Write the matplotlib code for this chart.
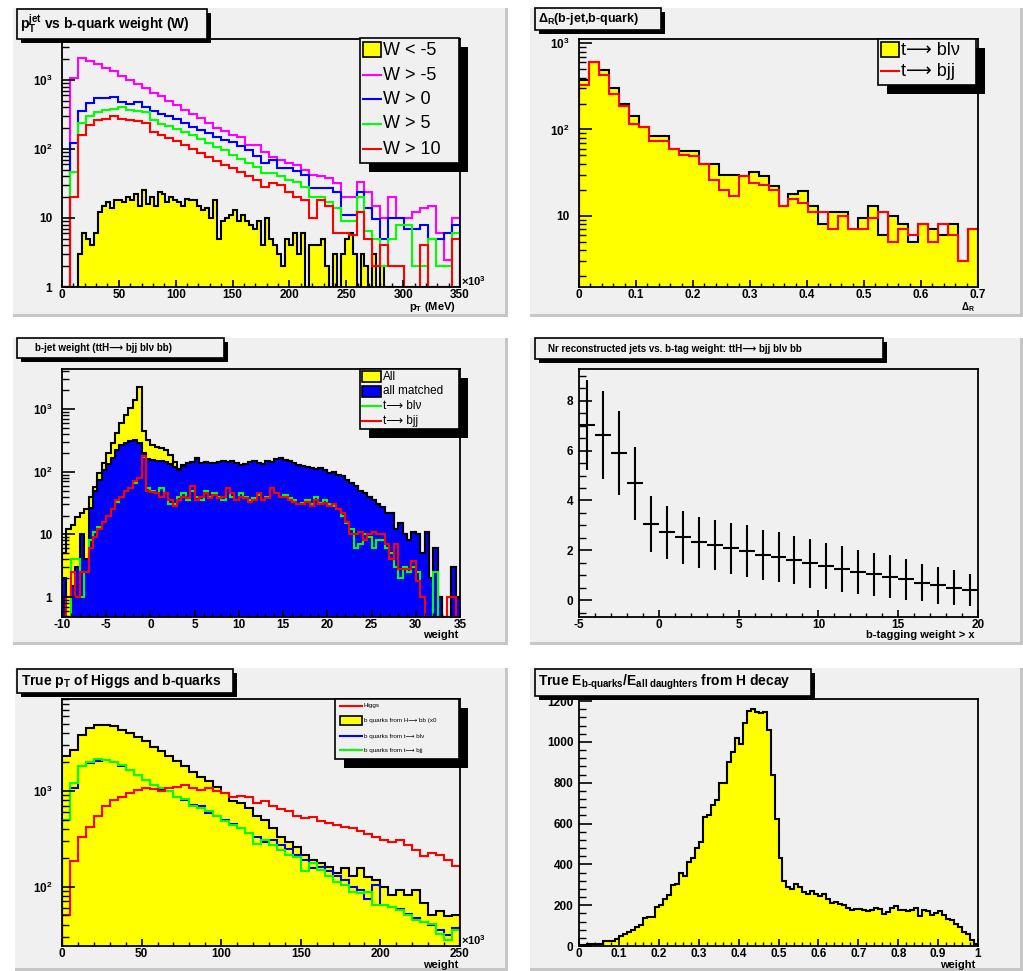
import numpy as np
import matplotlib.pyplot as plt
from matplotlib.patches import Rectangle
from matplotlib.lines import Line2D
from matplotlib.ticker import LogLocator, MultipleLocator, FuncFormatter, NullFormatter

plt.rcParams['font.family'] = ['Liberation Sans', 'DejaVu Sans']
plt.rcParams['font.weight'] = 'bold'
plt.rcParams['axes.unicode_minus'] = False
plt.rcParams['mathtext.fontset'] = 'custom'
plt.rcParams['mathtext.rm'] = 'Liberation Sans:bold'
plt.rcParams['mathtext.it'] = 'Liberation Sans:bold'
plt.rcParams['mathtext.bf'] = 'Liberation Sans:bold'
plt.rcParams['mathtext.sf'] = 'Liberation Sans:bold'

#----- data: pT jet vs b-quark weight (x in GeV, 7 GeV bins / 3.5 GeV bins)
pt_edges = np.linspace(0, 350, 51)
pt_fine_edges = np.linspace(0, 350, 101)
w_lt_m5 = [0, 0, 0, 0, 3, 6, 5, 4, 6, 12, 15, 17, 14, 18,
           18, 17, 20, 18, 22, 15, 25, 16, 20, 15,
           24, 22, 17, 20, 18, 17, 15, 19, 18, 18,
           15, 13, 14, 10, 18, 5, 9, 10, 11, 13,
           9, 11, 9, 8, 7, 9, 4, 10, 5, 4,
           3, 2, 5, 4, 6, 3, 6, 0, 4, 4,
           4, 5, 2, 0, 3, 1, 3, 5, 6, 3,
           1, 3, 2, 0, 3, 0, 2, 0, 0, 1,
           0, 0, 0, 0, 0, 0, 0, 0, 0, 0, 0, 0, 0, 0, 0, 0]
w_gt_m5 = [1, 1060, 2060, 1900, 1700, 1480, 1320, 1140, 1000, 875,
           760, 655, 575, 500, 435, 370, 325, 280, 240, 200,
           180, 160, 150, 115, 115, 90, 77, 70, 62, 58,
           50, 42, 40, 38, 32, 20, 20, 33, 24, 15,
           10, 20, 10, 10, 12, 14, 15, 6, 2.5, 10]
w_gt_0 = [1, 120, 350, 460, 540, 540, 560, 480, 450, 470,
          400, 350, 320, 300, 270, 240, 210, 190, 170, 150,
          135, 125, 110, 95, 80, 62, 70, 52, 52, 48,
          42, 27, 27, 27, 24, 11, 11, 24, 14, 9.5,
          5, 10, 10, 7, 7, 8, 5, 5, 6, 8]
w_gt_5 = [1, 47, 235, 300, 340, 360, 380, 400, 360, 350,
          340, 260, 230, 215, 195, 175, 160, 140, 120, 105,
          95, 82, 72, 62, 55, 45, 45, 40, 36, 33,
          28, 20, 20, 17, 14, 9, 9, 20, 6.5, 5,
          2, 5, 8, 8, 2, 2, 5, 2, 2, 6]
w_gt_10 = [1, 20, 160, 220, 260, 270, 300, 270, 260, 250,
           240, 175, 160, 145, 130, 115, 100, 88, 76, 66,
           58, 52, 46, 40, 35, 28, 32, 30, 24, 20,
           18, 10, 18, 15, 6, 6, 5.7, 12, 5, 2,
           4, 2, 2, 1, 1, 4, 1, 1, 1, 5]

#----- data: Delta R (b-jet, b-quark)
dr_edges = np.linspace(0, 0.7, 41)
dr_blv = [375, 600, 490, 300, 200, 143, 108, 84, 84, 60,
          57, 56, 40, 40, 30, 30, 29, 32, 29, 22,
          13, 18, 19.5, 13, 8, 11, 11, 7, 9.5, 13,
          6, 10, 8, 5, 8, 7, 6, 8, 3, 7]
dr_bjj = [330, 600, 430, 256, 185, 116, 108, 74, 74, 60,
          50, 49, 40, 26, 20, 17, 29, 24, 23, 20,
          13, 15.5, 14, 11, 11, 7, 10, 7, 7, 9.5,
          11, 5, 7, 6, 8, 5, 8, 6, 3, 7]

#----- data: b-jet weight
bw_edges = np.linspace(-10, 35, 91)
bw_all = [5, 12, 14, 19, 22, 25, 40, 58, 95, 140,
          200, 285, 410, 600, 810, 1040, 1400, 2250, 440, 320,
          270, 250, 240, 220, 185, 145, 110, 130, 140, 145,
          165, 140, 145, 140, 140, 145, 150, 145, 150, 140,
          130, 135, 145, 150, 140, 135, 150, 145, 160, 165,
          155, 150, 140, 130, 125, 120, 115, 110, 115, 105,
          95, 100, 90, 85, 75, 65, 60, 50, 45, 40,
          35, 30, 27, 22, 22, 12, 15, 10, 8, 11,
          10, 5, 11, 2, 6, 1, 0, 0, 3, 1]
bw_matched_head = [2, 0, 1.5, 3, 10, 4, 26, 50, 75, 105,
                   135, 165, 220, 265, 290, 310, 320, 290, 200, 160,
                   155, 150, 150, 145, 135, 120, 105, 125]
bw_matched = bw_matched_head + bw_all[len(bw_matched_head):]
bw_blv = [0, 0, 4, 4, 1, 2.5, 8, 11, 13, 16,
          20, 25, 33, 40, 50, 55, 65, 80, 170, 55,
          50, 45, 55, 45, 30, 30, 40, 45, 35, 50,
          40, 35, 50, 40, 45, 40, 35, 55, 40, 35,
          45, 40, 35, 38, 42, 35, 40, 55, 45, 40,
          42, 38, 35, 30, 32, 35, 30, 40, 32, 35,
          30, 28, 25, 20, 15, 12, 6, 7, 10, 9,
          6, 8, 8, 6, 5, 3, 2, 3, 2.5, 3,
          2.5, 1, 0, 0, 2.5, 0, 0, 0, 0, 0]
bw_bjj = [0, 1, 2.5, 1, 2.5, 2.5, 6, 9, 12, 16,
          20, 25, 35, 40, 50, 55, 70, 80, 180, 50,
          48, 45, 40, 45, 35, 28, 35, 40, 38, 60,
          35, 40, 45, 38, 42, 38, 40, 55, 45, 35,
          40, 38, 33, 36, 45, 35, 38, 55, 45, 40,
          40, 36, 33, 30, 30, 33, 28, 35, 30, 32,
          28, 30, 25, 22, 16, 10, 10, 11, 8, 10,
          11, 10, 10, 7, 4, 7, 2.8, 2.8, 2.8, 3.8,
          1.8, 1, 0, 0, 0, 0, 0, 1, 1, 0]

#----- data: Nr reconstructed jets vs b-tag weight
nj_x = np.arange(-4.5, 20, 1.0)
nj_y = [7.04, 6.64, 5.9, 4.69, 3.04, 2.72, 2.52, 2.32, 2.21, 2.08,
        1.97, 1.81, 1.72, 1.61, 1.47, 1.37, 1.26, 1.14, 1.03, 0.94,
        0.83, 0.70, 0.60, 0.50, 0.40]
nj_err = [1.8, 1.77, 1.7, 1.47, 1.12, 1.07, 1.07, 1.02, 1.0, 1.03,
          1.03, 1.0, 1.0, 0.97, 0.97, 0.94, 0.92, 0.88, 0.87, 0.85,
          0.82, 0.75, 0.74, 0.70, 0.64]

#----- data: true pT of Higgs and b-quarks (x in 10^3)
tp_edges = np.linspace(0, 250, 51)
tp_higgs = [50, 183, 333, 424, 540, 690, 805, 870, 945, 1020,
            1070, 1040, 985, 1070, 1090, 1150, 1070, 1020, 1070, 985,
            945, 870, 885, 860, 755, 775, 690, 645, 620, 540,
            520, 530, 480, 460, 440, 424, 410, 385, 355, 333,
            310, 295, 310, 270, 240, 210, 225, 215, 190, 165]
tp_hbb = [2300, 2700, 3850, 4520, 4890, 4890, 4700, 4350, 4010, 3640,
          3280, 2900, 2580, 2290, 2030, 1800, 1590, 1410, 1280, 1110,
          945, 775, 740, 660, 540, 500, 410, 330, 295, 260,
          215, 190, 175, 160, 140, 155, 130, 155, 127, 118,
          100, 82, 92, 82, 92, 67, 50, 56, 49, 50]
tp_blv = [500, 1070, 1800, 1950, 2070, 2100, 1980, 1820, 1660, 1470,
          1300, 1150, 1040, 985, 870, 805, 715, 690, 590, 540,
          500, 450, 410, 360, 330, 295, 310, 270, 250, 215,
          190, 155, 160, 145, 130, 118, 100, 92, 74, 104,
          64, 62, 59, 52, 47, 43, 40, 35, 31, 37]
tp_bjj = [500, 1200, 1820, 2020, 2140, 2100, 2020, 1870, 1660, 1470,
          1300, 1150, 1070, 985, 870, 830, 690, 660, 610, 540,
          480, 440, 410, 360, 280, 310, 270, 240, 215, 205,
          145, 175, 150, 130, 113, 104, 88, 85, 88, 64,
          64, 62, 57, 51, 45, 43, 41, 32, 28, 35]

#----- data: E b-quarks / E all daughters
ef_edges = np.linspace(0, 1, 101)
ef_vals = [5, 5, 8, 8, 10, 10, 25, 25, 25, 35,
           50, 60, 70, 80, 95, 105, 135, 140, 140, 190,
           200, 230, 250, 300, 305, 360, 345, 410, 430, 480,
           510, 630, 640, 690, 715, 800, 800, 900, 950, 1020,
           990, 1090, 1150, 1160, 1145, 1140, 1145, 1060, 840, 620,
           430, 320, 290, 280, 305, 290, 265, 255, 270, 255,
           245, 255, 230, 210, 215, 205, 200, 185, 175, 180,
           180, 175, 170, 175, 185, 180, 155, 165, 185, 195,
           175, 175, 170, 175, 185, 145, 175, 170, 150, 160,
           170, 150, 130, 125, 110, 95, 70, 60, 30, 10]

#----- layout helpers (pixel coordinates, origin top-left)
W, H = 1023, 971
GRAY = '#f0f0f0'
YEL = '#ffff00'
ARROW = '⟶'
fig = plt.figure(figsize=(W / 100, H / 100), dpi=100)
fig.patch.set_facecolor('white')


def fbox(x0, y0, x1, y1):
    return (x0 / W, 1 - y1 / H, (x1 - x0) / W, (y1 - y0) / H)


def frect(x0, y0, x1, y1, z=1, **kw):
    l, b, w, h = fbox(x0, y0, x1, y1)
    fig.add_artist(Rectangle((l, b), w, h, transform=fig.transFigure, zorder=z, **kw))


def fline(x0, x1, y, color, lw=1.5):
    fig.add_artist(Line2D([x0 / W, x1 / W], [1 - y / H, 1 - y / H],
                          transform=fig.transFigure, color=color, lw=lw, zorder=7))


def ftext(x, y, s, **kw):
    kw.setdefault('va', 'center')
    fig.text(x / W, 1 - y / H, s, zorder=8, **kw)


def pad(x0, y0, x1, y1):
    frect(x0, y0, x1, y1, z=-3, facecolor=GRAY, edgecolor='none')
    frect(x0, y1 - 3, x1, y1, z=-2, facecolor='#c6c6c6', edgecolor='none')
    frect(x1 - 3, y0, x1, y1, z=-2, facecolor='#c6c6c6', edgecolor='none')


def title_box(x0, y0, x1, y1, s, tx, fs):
    frect(x0 + 4, y0 + 4, x1 + 4, y1 + 4, z=5, facecolor='black', edgecolor='none')
    frect(x0, y0, x1, y1, z=6, facecolor=GRAY, edgecolor='black', lw=1.2)
    ftext(tx, (y0 + y1) / 2, s, fontsize=fs, fontweight='bold')


def legend_box(x0, y0, x1, y1, sx0, sx1, tx, rows, fs, sh=9):
    frect(x0 + sh, y0 + sh, x1 + sh, y1 + sh, z=5, facecolor='black', edgecolor='none')
    frect(x0, y0, x1, y1, z=6, facecolor=GRAY, edgecolor='black', lw=1.2)
    for y, kind, color, label, hh in rows:
        if kind == 'box':
            frect(sx0, y - hh, sx1, y + hh, z=7, facecolor=color, edgecolor='black', lw=1.2)
        else:
            fline(sx0, sx1, y, color)
        ftext(tx, y, label, fontsize=fs, fontweight='normal')


def logfmt(v, pos):
    if v < 1.5:
        return '1'
    if v < 15:
        return '10'
    return r'$10^{%d}$' % round(np.log10(v))


def make_ax(box, xlim, ylim, log=False, xmaj=None, xmin=None, ymaj=None, ymin=None):
    ax = fig.add_axes(fbox(*box))
    ax.set_facecolor(GRAY)
    for s in ax.spines.values():
        s.set_linewidth(1.3)
    ax.set_xlim(*xlim)
    if log:
        ax.set_yscale('log')
        ax.yaxis.set_major_locator(LogLocator(base=10, numticks=10))
        ax.yaxis.set_minor_locator(LogLocator(base=10, subs=np.arange(2, 10), numticks=20))
        ax.yaxis.set_major_formatter(FuncFormatter(logfmt))
        ax.yaxis.set_minor_formatter(NullFormatter())
    else:
        ax.yaxis.set_major_locator(MultipleLocator(ymaj))
        ax.yaxis.set_minor_locator(MultipleLocator(ymin))
        ax.yaxis.set_major_formatter(FuncFormatter(lambda v, p: '%g' % round(v, 6)))
    ax.set_ylim(*ylim)
    ax.xaxis.set_major_locator(MultipleLocator(xmaj))
    ax.xaxis.set_minor_locator(MultipleLocator(xmin))
    ax.xaxis.set_major_formatter(FuncFormatter(lambda v, p: '%g' % round(v, 6)))
    ax.tick_params(which='both', direction='in', top=False, right=False, labelsize=8.5)
    ax.tick_params(axis='y', which='major', length=9, width=1.2, pad=7 if log else 4)
    ax.tick_params(axis='y', which='minor', length=5, width=1)
    ax.tick_params(axis='x', which='major', length=5, width=1.2, pad=1.5)
    ax.tick_params(axis='x', which='minor', length=3, width=1)
    return ax


def hist(ax, edges, vals, floor, fill=None, color='black', lw=1.5):
    v = np.clip(np.asarray(vals, float), floor, None)
    if fill:
        ax.stairs(v, edges, baseline=floor, fill=True, facecolor=fill, edgecolor='none')
    ax.stairs(v, edges, baseline=floor, color=color, lw=lw)


#----- pads
pad(13, 8, 508, 317)
pad(530, 8, 1023, 317)
pad(13, 338, 508, 645)
pad(530, 338, 1023, 645)
pad(15, 668, 508, 971)
pad(530, 668, 1023, 971)

#----- panel 1
ax1 = make_ax((62, 39, 460, 287), (0, 350), (1, 3900), log=True, xmaj=50, xmin=10)
hist(ax1, pt_fine_edges, w_lt_m5, 1, fill=YEL)
hist(ax1, pt_edges, w_gt_m5, 1, color='#ff00ff')
hist(ax1, pt_edges, w_gt_0, 1, color='#0000ff')
hist(ax1, pt_edges, w_gt_5, 1, color='#00ff00')
hist(ax1, pt_edges, w_gt_10, 1, color='#ff0000')
title_box(17, 9, 207, 39, r'p$_{\mathrm{T}}^{\mathrm{jet}}$ vs b-quark weight (W)', 20, 10)
legend_box(360, 38, 459, 163, 363, 381, 383,
           [(50, 'box', YEL, 'W < -5', 7.5), (75, 'line', '#ff00ff', 'W > -5', 0),
            (99, 'line', '#0000ff', 'W > 0', 0), (124, 'line', '#00ff00', 'W > 5', 0),
            (149, 'line', '#ff0000', 'W > 10', 0)], 13)
ftext(461, 281, r'$\times10^{3}$', fontsize=8)
ftext(456, 307, r'p$_{\mathrm{T}}$ (MeV)', fontsize=8, ha='right')

#----- panel 2
ax2 = make_ax((579, 39, 978, 287), (0, 0.7), (1.49, 1120), log=True, xmaj=0.1, xmin=0.02)
hist(ax2, dr_edges, dr_blv, 1.49, fill=YEL)
hist(ax2, dr_edges, dr_bjj, 1.49, color='#ff0000')
title_box(535, 8, 661, 30, r'$\Delta_{R}$(b-jet,b-quark)', 538, 9)
legend_box(878, 39, 976, 85, 881, 899, 901,
           [(50, 'box', YEL, 't' + ARROW + ' blν', 7.5),
            (71, 'line', '#ff0000', 't' + ARROW + ' bjj', 0)], 13)
ftext(975, 307, r'$\Delta_{R}$', fontsize=7, ha='right')

#----- panel 3
ax3 = make_ax((62, 369, 460, 617), (-10, 35), (0.48, 4360), log=True, xmaj=5, xmin=1)
hist(ax3, bw_edges, bw_all, 0.48, fill=YEL)
hist(ax3, bw_edges, bw_matched, 0.48, fill='#0000ff')
hist(ax3, bw_edges, bw_blv, 0.48, color='#00ff00')
hist(ax3, bw_edges, bw_bjj, 0.48, color='#ff0000')
title_box(17, 338, 224, 358, 'b-jet weight (ttH' + ARROW + ' bjj blν bb)', 35, 7)
legend_box(360, 369, 459, 429, 362, 381, 383,
           [(377, 'box', YEL, 'All', 5.5), (391, 'box', '#0000ff', 'all matched', 5.5),
            (406, 'line', '#00ff00', 't' + ARROW + ' blν', 0),
            (421, 'line', '#ff0000', 't' + ARROW + ' bjj', 0)], 8.5)
ftext(458, 635, 'weight', fontsize=8, ha='right')

#----- panel 4
ax4 = make_ax((579, 369, 978, 617), (-5, 20), (-0.68, 9.28), xmaj=5, xmin=1, ymaj=2, ymin=0.5)
ax4.errorbar(nj_x, nj_y, xerr=0.5, yerr=nj_err, fmt='none', ecolor='black', elinewidth=1.5, capsize=0)
title_box(535, 338, 883, 359, 'Nr reconstructed jets vs. b-tag weight: ttH' + ARROW + ' bjj blν bb', 548, 7)
ftext(975, 635, 'b-tagging weight > x', fontsize=8, ha='right')

#----- panel 5
ax5 = make_ax((62, 699, 460, 946), (0, 250), (24, 9100), log=True, xmaj=50, xmin=10)
hist(ax5, tp_edges, tp_hbb, 24, fill=YEL)
hist(ax5, tp_edges, tp_blv, 24, color='#0000ff')
hist(ax5, tp_edges, tp_bjj, 24, color='#00ff00')
hist(ax5, tp_edges, tp_higgs, 24, color='#ff0000')
title_box(17, 669, 233, 693, r'True p$_{\mathrm{T}}$ of Higgs and b-quarks', 21, 10)
legend_box(335, 699, 459, 759, 340, 362, 364,
           [(706, 'line', '#ff0000', 'Higgs', 0),
            (720, 'box', YEL, 'b quarks from H' + ARROW + ' bb (x0', 4.5),
            (736, 'line', '#0000ff', 'b quarks from t' + ARROW + ' blν', 0),
            (750, 'line', '#00ff00', 'b quarks from t' + ARROW + ' bjj', 0)], 4.5)
ftext(461, 940, r'$\times10^{3}$', fontsize=8)
ftext(458, 965, 'weight', fontsize=8, ha='right')

#----- panel 6
ax6 = make_ax((579, 699, 978, 946), (0, 1), (0, 1210), xmaj=0.1, xmin=0.02, ymaj=200, ymin=40)
hist(ax6, ef_edges, ef_vals, 0, fill=YEL)
title_box(535, 669, 811, 696,
          r'True E$_{\text{b-quarks}}$/E$_{\text{all daughters}}$ from H decay', 538, 10)
ftext(975, 965, 'weight', fontsize=8, ha='right')

plt.savefig('out.png', dpi=100)
